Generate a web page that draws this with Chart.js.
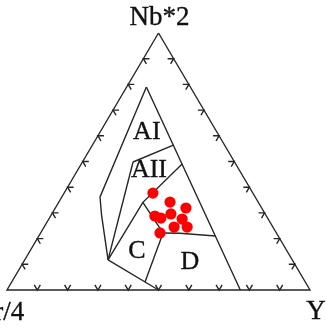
<!DOCTYPE html>
<html>
<head>
<meta charset="utf-8">
<script src="https://cdn.jsdelivr.net/npm/chart.js@4.4.1/dist/chart.umd.min.js"></script>
<style>
  html, body { margin: 0; padding: 0; background: #fff; }
  canvas { display: block; }
</style>
</head>
<body>
<canvas id="ternary" width="326" height="329"></canvas>
<script>
// apex labels: top, bottom-left, bottom-right
const corners = [`Nb*2`, `Zr/4`, `Y`]

// samples, percent of Nb*2 + Zr/4 + Y
const sampleNb = [37.7, 34.2, 31.9, 29.6, 28.8, 28.0, 27.6, 24.5, 24.5, 22.2]
const sampleZr = [33.0, 29.1, 25.0, 31.1, 36.8, 35.2, 28.4, 32.6, 28.3, 38.4]
const sampleY = [29.3, 36.7, 43.1, 39.3, 34.4, 36.8, 44.0, 42.9, 47.2, 39.4]

// field boundaries, each a polyline of [Nb, Zr, Y]
const rightEdge = [[79, 14.5, 6.5], [0, 23, 77]]
const outerLeft = [[79, 14.5, 6.5], [36.2, 51.2, 12.6], [29.2, 54.2, 16.6], [11.7, 60.8, 27.5]]
const innerLeft = [[49.8, 33.5, 16.7], [11.7, 60.8, 27.5]]
const aiiTop = [[49.8, 33.5, 16.7], [56.4, 16.9, 26.7]]
const aiiBottom = [[49.0, 17.7, 33.3], [34.1, 38.1, 27.8], [11.7, 60.8, 27.5]]
const cUpper = [[34.1, 38.1, 27.8], [22.2, 37.4, 40.4]]
const dTop = [[22.2, 37.4, 40.4], [22.1, 31.9, 46.0], [21.0, 20.7, 58.3]]
const cdLine = [[22.2, 37.4, 40.4], [3.1, 52.9, 44.0]]
const cBase = [[11.7, 60.8, 27.5], [0, 50, 50]]

const fieldNames = [`AI`, `AII`, `C`, `D`]
const fieldAt = [[61.5, 23.1, 15.4], [46.7, 29.8, 23.5], [15.2, 49.5, 35.3], [10.9, 34.2, 54.9]]

const tickValues = [10, 20, 30, 40, 50, 60, 70, 80, 90]

// ternary -> x along the base, y as Nb fraction (the scales take care of the aspect)
const cart = ([nb, zr, y]) => {
  const s = nb + zr + y
  return { x: (y + nb / 2) / s, y: nb / s }
}

const poly = (pts) => pts.map(cart)
const gap = () => ({ x: NaN, y: NaN })

// outline plus the little inward ticks, broken up with gaps
const frame = poly([[100, 0, 0], [0, 100, 0], [0, 0, 100], [100, 0, 0]])
const ticks = []
const L = 2
tickValues.forEach((v) => {
  // base
  ticks.push(cart([L, 100 - v - L, v]), cart([0, 100 - v, v]), cart([L, 100 - v, v - L]), gap())
  // left side
  ticks.push(cart([v, 100 - v - L, L]), cart([v, 100 - v, 0]), cart([v - L, 100 - v, L]), gap())
  // right side
  ticks.push(cart([v, L, 100 - v - L]), cart([v, 0, 100 - v]), cart([v - L, L, 100 - v]), gap())
})

const samples = sampleNb.map((nb, i) => cart([nb, sampleZr[i], sampleY[i]]))

const lineSet = (data) => ({
  data,
  showLine: true,
  spanGaps: false,
  pointRadius: 0,
  borderColor: `#262626`,
  borderWidth: 1.4,
  clip: false,
})

const serif = `"Liberation Serif", "Times New Roman", serif`

const labels = {
  id: `ternaryLabels`,
  afterDatasetsDraw(chart) {
    const { ctx, scales } = chart
    const px = (p) => [scales.x.getPixelForValue(p.x), scales.y.getPixelForValue(p.y)]
    const put = (text, x, y) => {
      ctx.fillText(text, x, y)
      ctx.strokeText(text, x, y)
    }
    ctx.save()
    ctx.fillStyle = `#111`
    ctx.strokeStyle = `#111`
    ctx.lineWidth = 0.35
    ctx.textAlign = `center`
    ctx.textBaseline = `middle`
    ctx.font = `27px ${serif}`
    const [tx, ty] = px(cart([100, 0, 0]))
    put(corners[0], tx + 1, ty - 15)
    const [lx, ly] = px(cart([0, 100, 0]))
    put(corners[1], lx - 6, ly + 23)
    const [rx, ry] = px(cart([0, 0, 100]))
    put(corners[2], rx + 6, ry + 22)
    ctx.font = `26px ${serif}`
    fieldNames.forEach((name, i) => {
      const [fx, fy] = px(cart(fieldAt[i]))
      put(name, fx, fy)
    })
    ctx.restore()
  },
}

new Chart(document.querySelector(`#ternary`), {
  type: `scatter`,
  data: {
    datasets: [
      {
        data: samples,
        pointRadius: 5.6,
        pointHoverRadius: 5.6,
        backgroundColor: `#ff0000`,
        borderWidth: 0,
        clip: false,
      },
      lineSet(poly(rightEdge)),
      lineSet(poly(outerLeft)),
      lineSet(poly(innerLeft)),
      lineSet(poly(aiiTop)),
      lineSet(poly(aiiBottom)),
      lineSet(poly(cUpper)),
      lineSet(poly(dTop)),
      lineSet(poly(cdLine)),
      lineSet(poly(cBase)),
      lineSet(frame),
      lineSet(ticks),
    ],
  },
  options: {
    responsive: false,
    animation: false,
    devicePixelRatio: 1,
    layout: { padding: { left: 7, right: 16, top: 33, bottom: 39 } },
    scales: {
      x: { type: `linear`, min: 0, max: 1, display: false },
      y: { type: `linear`, min: 0, max: 1, display: false },
    },
    plugins: {
      legend: { display: false },
      tooltip: { enabled: false },
    },
  },
  plugins: [labels],
})
</script>
</body>
</html>
